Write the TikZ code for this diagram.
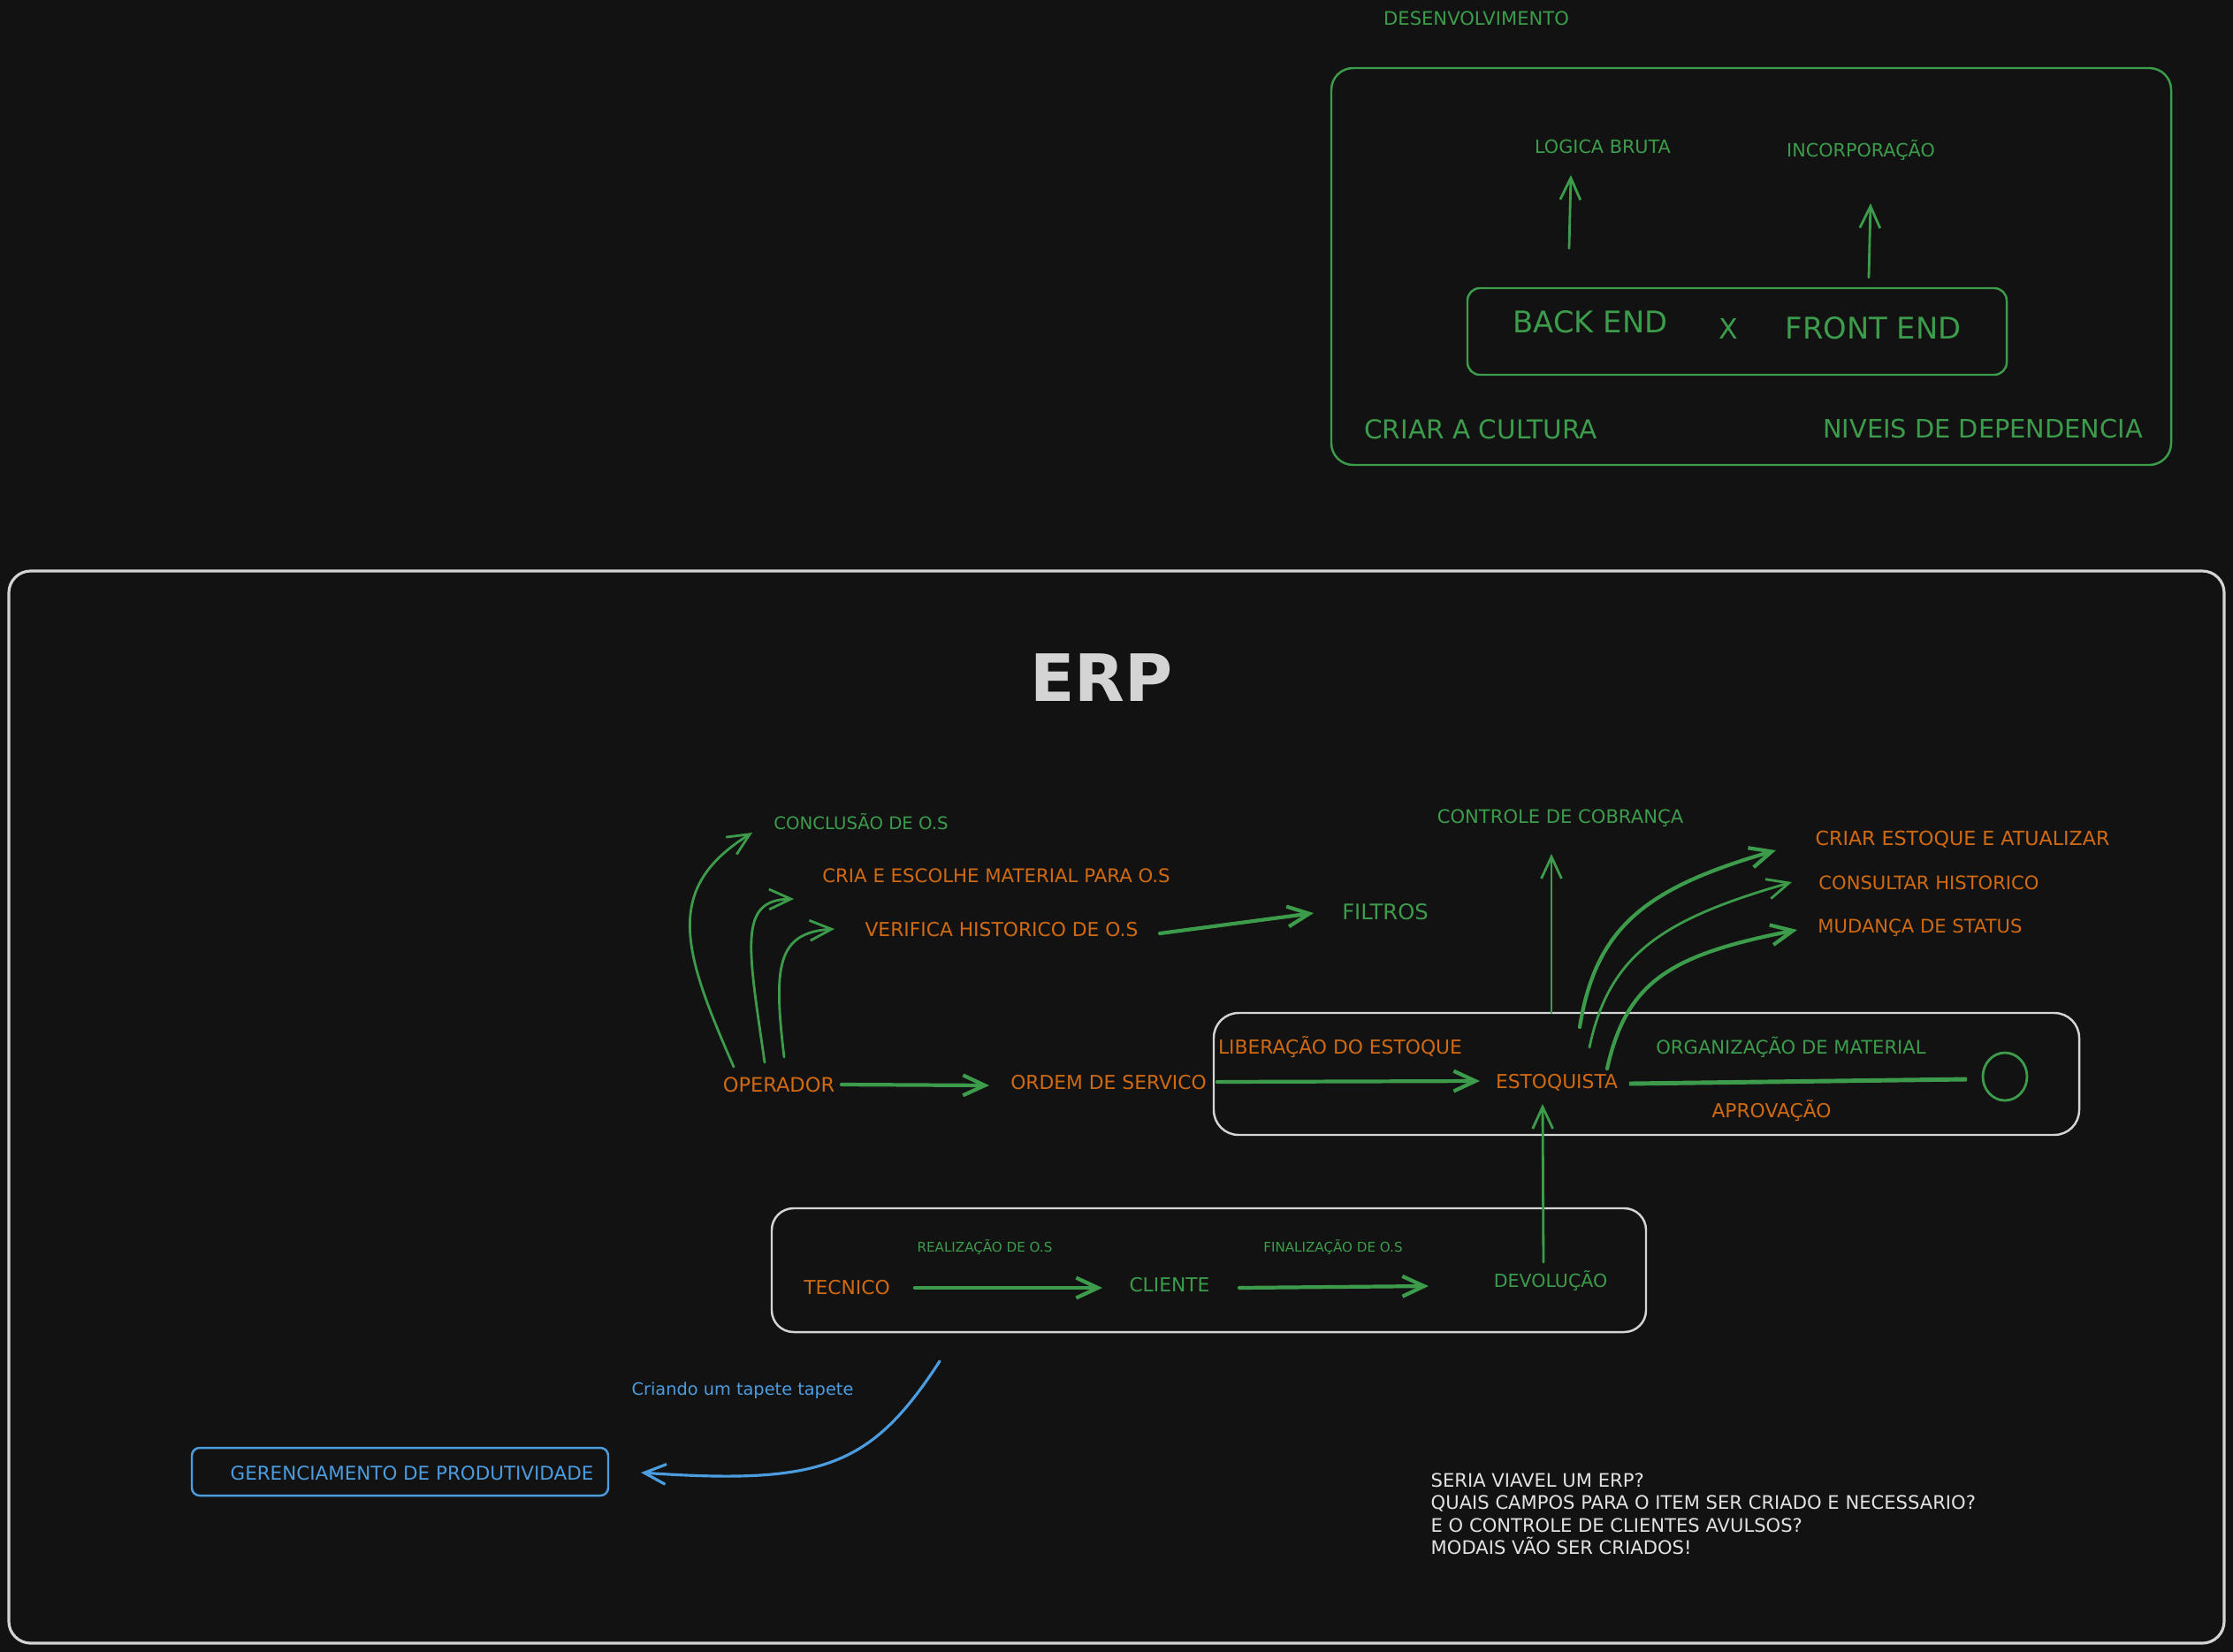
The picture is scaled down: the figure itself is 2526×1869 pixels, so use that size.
\documentclass[tikz,border=0pt]{standalone}
\usepackage{fontspec}
\setmainfont{DejaVu Sans}
\usetikzlibrary{arrows.meta,shapes.geometric}
\definecolor{bg}{HTML}{121212}
\definecolor{grn}{HTML}{3C9C4C}
\definecolor{org}{HTML}{D06A12}
\definecolor{wht}{HTML}{D4D4D4}
\definecolor{blu}{HTML}{4C9CE0}
\definecolor{note}{HTML}{E2E2E2}
\newcommand{\fsz}[1]{\fontsize{#1}{#1}\selectfont}
\tikzset{
  lbl/.style={inner sep=0pt, anchor=center},
  gt/.style={lbl, text=grn},
  ot/.style={lbl, text=org},
  bt/.style={lbl, text=blu},
  frame/.style={line width=0.7pt},
  arr/.style={draw=grn, line width=0.8pt, line cap=round, -{Straight Barb[length=7pt,width=6.5pt]}},
  thickarr/.style={arr, line width=1.2pt},
}
\begin{document}
\begin{tikzpicture}[x=0.01cm,y=-0.01cm]
\fill[bg] (0,0) rectangle (2526,1869);
\useasboundingbox (0,0) rectangle (2526,1869);

% ---------- top section ----------
\node[gt, font=\fsz{6}] (desenv) at (1670,21) {DESENVOLVIMENTO};
\draw[grn, frame, rounded corners=7pt] (1506,77) rectangle (2456,526);
\node[gt, font=\fsz{5.9}] (logica) at (1813,166) {LOGICA BRUTA};
\node[gt, font=\fsz{5.9}] (incorp) at (2105,170) {INCORPORAÇÃO};
\draw[grn, frame, rounded corners=4pt] (1660,326) rectangle (2270,424);
\node[gt, font=\fsz{9.6}] (backend) at (1799,364) {BACK END};
\node[gt, font=\fsz{9}] (xsep) at (1955,372) {X};
\node[gt, font=\fsz{9.6}] (frontend) at (2119,371) {FRONT END};
\node[gt, font=\fsz{8.4}] (cultura) at (1675,486) {CRIAR A CULTURA};
\node[gt, font=\fsz{8.2}] (niveis) at (2243,485) {NIVEIS DE DEPENDENCIA};
\coordinate (bkup) at (1775,281);
\coordinate (frup) at (2114,314);
\coordinate (bktop) at (1777,198);
\coordinate (frtop) at (2116,230);
\draw[arr] (bkup) -- (bktop);
\draw[arr] (frup) -- (frtop);

% ---------- ERP section ----------
\draw[wht, line width=0.9pt, rounded corners=7pt] (10,646) rectangle (2516,1859);
\node[lbl, text=wht, font=\fsz{21}\bfseries] (erp) at (1246,767) {ERP};

\node[gt, font=\fsz{5.6}] (conclusao) at (974,930) {CONCLUSÃO DE O.S};
\node[ot, font=\fsz{6.05}] (cria) at (1127,991) {CRIA E ESCOLHE MATERIAL PARA O.S};
\node[ot, font=\fsz{6.2}] (verifica) at (1133,1052) {VERIFICA HISTORICO DE O.S};
\node[gt, font=\fsz{6.9}] (filtros) at (1567,1032) {FILTROS};
\node[ot, font=\fsz{6.4}] (operador) at (881,1227) {OPERADOR};
\node[ot, font=\fsz{6.2}] (ordem) at (1254,1225) {ORDEM DE SERVICO};

\draw[wht, frame, rounded corners=8pt] (1373,1146) rectangle (2352,1284);
\node[ot, font=\fsz{6.2}] (liberacao) at (1516,1185) {LIBERAÇÃO DO ESTOQUE};
\node[ot, font=\fsz{6.2}] (estoquista) at (1761,1225) {ESTOQUISTA};
\node[gt, font=\fsz{6.0}] (organizacao) at (2026,1185) {ORGANIZAÇÃO DE MATERIAL};
\node[ot, font=\fsz{6.2}] (aprovacao) at (2004,1257) {APROVAÇÃO};
\node[draw=grn, line width=0.8pt, ellipse, minimum width=0.5cm, minimum height=0.54cm, inner sep=0pt] (circ) at (2268,1218) {};

\node[gt, font=\fsz{6.0}] (controle) at (1765,926) {CONTROLE DE COBRANÇA};
\node[ot, font=\fsz{6.3}] (criar) at (2220,950) {CRIAR ESTOQUE E ATUALIZAR};
\node[ot, font=\fsz{6.0}] (consultar) at (2182,999) {CONSULTAR HISTORICO};
\node[ot, font=\fsz{6.0}] (mudanca) at (2172,1050) {MUDANÇA DE STATUS};

\draw[wht, frame, rounded corners=7pt] (873,1367) rectangle (1862,1507);
\node[ot, font=\fsz{6.2}] (tecnico) at (958,1457) {TECNICO};
\node[gt, font=\fsz{4.3}] (realizacao) at (1114,1411) {REALIZAÇÃO DE O.S};
\node[gt, font=\fsz{6.2}] (cliente) at (1323,1454) {CLIENTE};
\node[gt, font=\fsz{4.3}] (finalizacao) at (1508,1411) {FINALIZAÇÃO DE O.S};
\node[gt, font=\fsz{5.85}] (devolucao) at (1754,1449) {DEVOLUÇÃO};

\draw[blu, frame, rounded corners=2.5pt] (217,1638) rectangle (688,1692);
\node[bt, font=\fsz{6.1}] (gerenc) at (466,1667) {GERENCIAMENTO DE PRODUTIVIDADE};
\node[bt, font=\fsz{5.5}] (criando) at (840,1573) {Criando um tapete tapete};

\node[anchor=north west, inner sep=0pt, text=note, align=left,
      font=\fontsize{6.0}{7.2}\selectfont] (notes) at (1618,1666)
 {SERIA VIAVEL UM ERP?\\QUAIS CAMPOS PARA O ITEM SER CRIADO E NECESSARIO?\\E O CONTROLE DE CLIENTES AVULSOS?\\MODAIS VÃO SER CRIADOS!};

% ---------- connectors ----------
\coordinate (op1) at (830,1207);
\coordinate (op2) at (865,1202);
\coordinate (op3) at (887,1196);
\coordinate (c1end) at (851,942);
\coordinate (c2end) at (898,1017);
\coordinate (c3end) at (944,1051);
\draw[arr] (op1) .. controls (772,1075) and (750,1005) .. (c1end);
\draw[arr] (op2) .. controls (846,1070) and (835,1018) .. (c2end);
\draw[arr] (op3) .. controls (875,1095) and (878,1055) .. (c3end);
\coordinate (verR) at (1312,1056);
\coordinate (filL) at (1486,1033);
\draw[thickarr] (verR) -- (filL);
\coordinate (opR) at (952,1227);
\coordinate (ordL) at (1119,1228);
\draw[thickarr] (opR) -- (ordL);
\coordinate (ordR) at (1377,1224);
\coordinate (estL) at (1674,1223);
\draw[thickarr] (ordR) -- (estL);
\coordinate (st0) at (1755,1146);
\coordinate (ctrB) at (1755,966);
\draw[arr] (st0) -- (ctrB);
\coordinate (st1) at (1787,1162);
\coordinate (st2) at (1798,1185);
\coordinate (st3) at (1818,1209);
\coordinate (crL) at (2009,962);
\coordinate (coL) at (2027,998);
\coordinate (muL) at (2033,1052);
\draw[thickarr] (st1) .. controls (1805,1050) and (1860,1005) .. (crL);
\draw[arr] (st2) .. controls (1820,1080) and (1880,1040) .. (coL);
\draw[thickarr] (st3) .. controls (1840,1110) and (1890,1080) .. (muL);
\coordinate (estR) at (1843,1226);
\coordinate (circL) at (2225,1221);
\draw[grn, line width=1.4pt] (estR) -- (circL);
\coordinate (devT) at (1746,1428);
\coordinate (estB) at (1745,1249);
\draw[arr] (devT) -- (estB);
\coordinate (tecR) at (1035,1457);
\coordinate (cliL) at (1247,1457);
\draw[thickarr] (tecR) -- (cliL);
\coordinate (cliR) at (1402,1457);
\coordinate (devL) at (1616,1455);
\draw[thickarr] (cliR) -- (devL);
\coordinate (bstart) at (1063,1540);
\coordinate (gerR) at (725,1666);
\draw[blu, line width=0.9pt, line cap=round, -{Straight Barb[length=7pt,width=6.5pt]}]
  (bstart) .. controls (985,1660) and (930,1680) .. (gerR);
\end{tikzpicture}
\end{document}
